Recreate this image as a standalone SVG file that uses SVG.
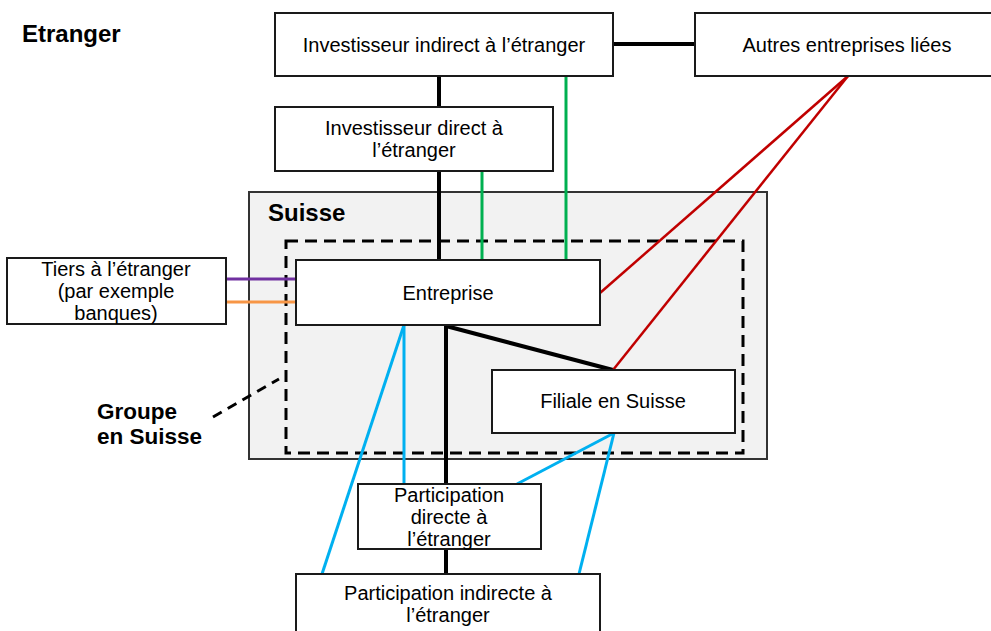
<svg xmlns="http://www.w3.org/2000/svg" width="991" height="631" viewBox="0 0 991 631">
<style>
.box{fill:#ffffff;stroke:#1a1a1a;stroke-width:2}
.t{font-family:"Liberation Sans",Arial,sans-serif;font-size:20px;fill:#000;text-anchor:middle}
.b{font-family:"Liberation Sans",Arial,sans-serif;font-size:24px;font-weight:bold;fill:#000}
.g{font-size:22.5px}
.blk{stroke:#000;stroke-width:4;fill:none}
.grn{stroke:#00b050;stroke-width:3;fill:none}
.red{stroke:#c00000;stroke-width:2.5;fill:none}
.blu{stroke:#00b0f0;stroke-width:3;fill:none}
</style>
<rect width="991" height="631" fill="#ffffff"/>
<g id="region-suisse">
<rect x="249" y="192" width="518" height="267" fill="#f2f2f2" stroke="#333" stroke-width="2"/>
<text class="b" x="268" y="221">Suisse</text>
</g>
<g id="groupe-suisse">
<rect x="286" y="241" width="457" height="212" fill="none" stroke="#000" stroke-width="3" stroke-dasharray="12 7"/>
<line x1="213" y1="417" x2="279" y2="379" stroke="#000" stroke-width="3" stroke-dasharray="10 7"/>
<text class="b g" x="97" y="419">Groupe</text>
<text class="b g" x="97" y="444">en Suisse</text>
</g>
<g id="label-etranger">
<text class="b" x="22" y="42">Etranger</text>
</g>
<g id="connectors">
<line class="blk" x1="613" y1="44" x2="695" y2="44"/>
<line class="blk" x1="439" y1="76" x2="439" y2="107"/>
<line class="blk" x1="439" y1="171" x2="439" y2="260"/>
<line class="blk" x1="446" y1="325" x2="446" y2="484"/>
<line class="blk" x1="446" y1="549" x2="446" y2="574"/>
<line class="blk" x1="446" y1="326" x2="613" y2="370"/>
<line class="grn" x1="482" y1="171" x2="482" y2="260"/>
<line class="grn" x1="566" y1="76" x2="566" y2="260"/>
<line class="red" x1="848" y1="76" x2="600" y2="293"/>
<line class="red" x1="848" y1="76" x2="613" y2="370"/>
<line x1="226" y1="279" x2="296" y2="279" stroke="#7030a0" stroke-width="3"/>
<line x1="226" y1="302" x2="296" y2="302" stroke="#f79646" stroke-width="3"/>
<line class="blu" x1="404" y1="325" x2="404" y2="484"/>
<line class="blu" x1="404" y1="325" x2="322" y2="574"/>
<line class="blu" x1="614" y1="433" x2="517" y2="484"/>
<line class="blu" x1="614" y1="433" x2="579" y2="574"/>
</g>
<g id="investisseur-indirect">
<rect class="box" x="275" y="13" width="338" height="63"/>
<text class="t" x="444" y="52">Investisseur indirect à l’étranger</text>
</g>
<g id="autres-entreprises">
<rect class="box" x="695" y="13" width="305" height="63"/>
<text class="t" x="847" y="52">Autres entreprises liées</text>
</g>
<g id="investisseur-direct">
<rect class="box" x="275" y="107" width="278" height="64"/>
<text class="t" x="414" y="135">Investisseur direct à</text>
<text class="t" x="414" y="157">l’étranger</text>
</g>
<g id="entreprise">
<rect class="box" x="296" y="260" width="304" height="65"/>
<text class="t" x="448" y="300">Entreprise</text>
</g>
<g id="tiers">
<rect class="box" x="7" y="258" width="219" height="66"/>
<text class="t" x="116" y="276">Tiers à l’étranger</text>
<text class="t" x="116" y="298">(par exemple</text>
<text class="t" x="116" y="320">banques)</text>
</g>
<g id="filiale">
<rect class="box" x="492" y="370" width="243" height="63"/>
<text class="t" x="613" y="408">Filiale en Suisse</text>
</g>
<g id="participation-directe">
<rect class="box" x="358" y="484" width="183" height="65"/>
<text class="t" x="449" y="502">Participation</text>
<text class="t" x="449" y="524">directe à</text>
<text class="t" x="449" y="546">l’étranger</text>
</g>
<g id="participation-indirecte">
<rect class="box" x="296" y="574" width="304" height="70"/>
<text class="t" x="448" y="600">Participation indirecte à</text>
<text class="t" x="448" y="622">l’étranger</text>
</g>
</svg>
